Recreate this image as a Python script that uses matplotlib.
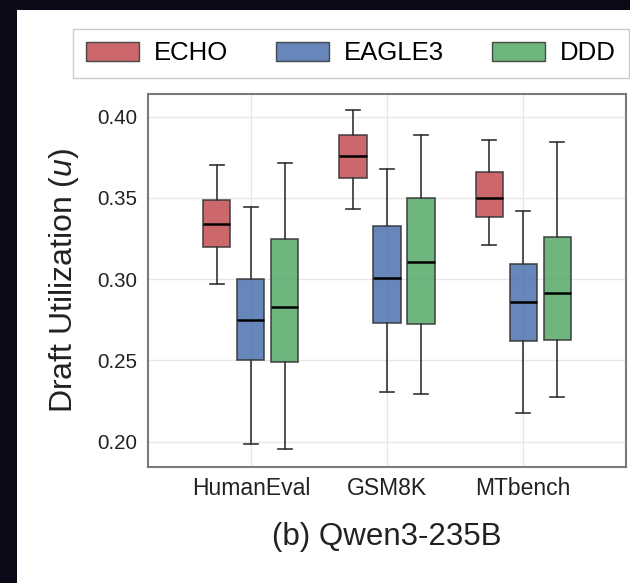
import matplotlib
matplotlib.use("Agg")
import matplotlib.pyplot as plt
from matplotlib.patches import Patch, Rectangle

plt.rcParams['font.family'] = ['Liberation Sans', 'DejaVu Sans']
plt.rcParams['mathtext.fontset'] = 'custom'
plt.rcParams['mathtext.rm'] = 'Liberation Sans'
plt.rcParams['mathtext.it'] = 'Liberation Sans:italic'

categories = ["HumanEval", "GSM8K", "MTbench"]
methods = ["ECHO", "EAGLE3", "DDD"]
colors = ["#C44E52", "#4C72B0", "#55A868"]

# box stats, one list per method (HumanEval, GSM8K, MTbench)
echo_lo = [0.297, 0.343, 0.321]
echo_q1 = [0.320, 0.362, 0.3385]
echo_med = [0.334, 0.376, 0.350]
echo_q3 = [0.3486, 0.3887, 0.366]
echo_hi = [0.370, 0.404, 0.3857]

eagle_lo = [0.1988, 0.2308, 0.2177]
eagle_q1 = [0.2501, 0.2730, 0.2622]
eagle_med = [0.2749, 0.3009, 0.2860]
eagle_q3 = [0.3001, 0.3327, 0.3094]
eagle_hi = [0.3444, 0.3680, 0.3422]

ddd_lo = [0.1955, 0.2292, 0.2273]
ddd_q1 = [0.2492, 0.2724, 0.2624]
ddd_med = [0.2827, 0.3104, 0.2917]
ddd_q3 = [0.3246, 0.3500, 0.3258]
ddd_hi = [0.3715, 0.3887, 0.3844]

all_stats = [
    (echo_lo, echo_q1, echo_med, echo_q3, echo_hi),
    (eagle_lo, eagle_q1, eagle_med, eagle_q3, eagle_hi),
    (ddd_lo, ddd_q1, ddd_med, ddd_q3, ddd_hi),
]

fig = plt.figure(figsize=(6.3, 5.83), dpi=100, facecolor="#0a0a18")
fig.add_artist(Rectangle((17 / 630, 0), 1, 1 - 10 / 583, transform=fig.transFigure,
                         facecolor="white", edgecolor="none", zorder=-10))

ax = fig.add_axes([148 / 630, 1 - 467 / 583, 478 / 630, 373 / 583])
ax.set_facecolor("white")

width = 0.2
for j, (lo, q1, med, q3, hi) in enumerate(all_stats):
    stats = []
    for i in range(len(categories)):
        stats.append({"whislo": lo[i], "q1": q1[i], "med": med[i], "q3": q3[i],
                      "whishi": hi[i], "fliers": []})
    pos = [i + (j - 1) * 0.25 for i in range(len(categories))]
    ax.bxp(stats, positions=pos, widths=width, patch_artist=True, showfliers=False,
           manage_ticks=False, capwidths=width * 0.5,
           boxprops=dict(facecolor=colors[j], alpha=0.85, edgecolor="#333333", linewidth=1.2),
           whiskerprops=dict(color="#333333", linewidth=1.2),
           capprops=dict(color="#333333", linewidth=1.2),
           medianprops=dict(color="black", linewidth=1.8))

ax.set_xlim(-0.755, 2.755)
ax.set_ylim(0.1844, 0.414)
ax.set_xticks(range(len(categories)))
ax.set_xticklabels(categories)
ax.set_yticks([0.20, 0.25, 0.30, 0.35, 0.40])
ax.set_yticklabels(["0.20", "0.25", "0.30", "0.35", "0.40"])
ax.tick_params(axis="x", length=0, pad=7, labelsize=16.5, colors="#222222")
ax.tick_params(axis="y", length=0, pad=8, labelsize=14.8, colors="#222222")
ax.grid(True, color="#e6e6e6", linewidth=1.0)
ax.set_axisbelow(True)
for s in ax.spines.values():
    s.set_color("#7a7a7a")
    s.set_linewidth(1.5)

ax.set_xlabel("(b) Qwen3-235B", fontsize=22.5, color="#222222", labelpad=16)
ax.set_ylabel("Draft Utilization ($u$)", fontsize=23, color="#222222", labelpad=11)

handles = [Patch(facecolor=c, alpha=0.85, edgecolor="#333333", linewidth=1.0) for c in colors]
fig.legend(handles, methods, loc="center", ncol=3, mode="expand",
           bbox_to_anchor=(73 / 630, 1 - 82 / 583, 556 / 630, 57 / 583),
           borderaxespad=0,
           fontsize=18.5, handlelength=2.05, handleheight=0.74, handletextpad=0.6,
           fancybox=False, edgecolor="#cccccc", framealpha=1, borderpad=0.5)

plt.savefig("out.png", dpi=100, facecolor=fig.get_facecolor())
